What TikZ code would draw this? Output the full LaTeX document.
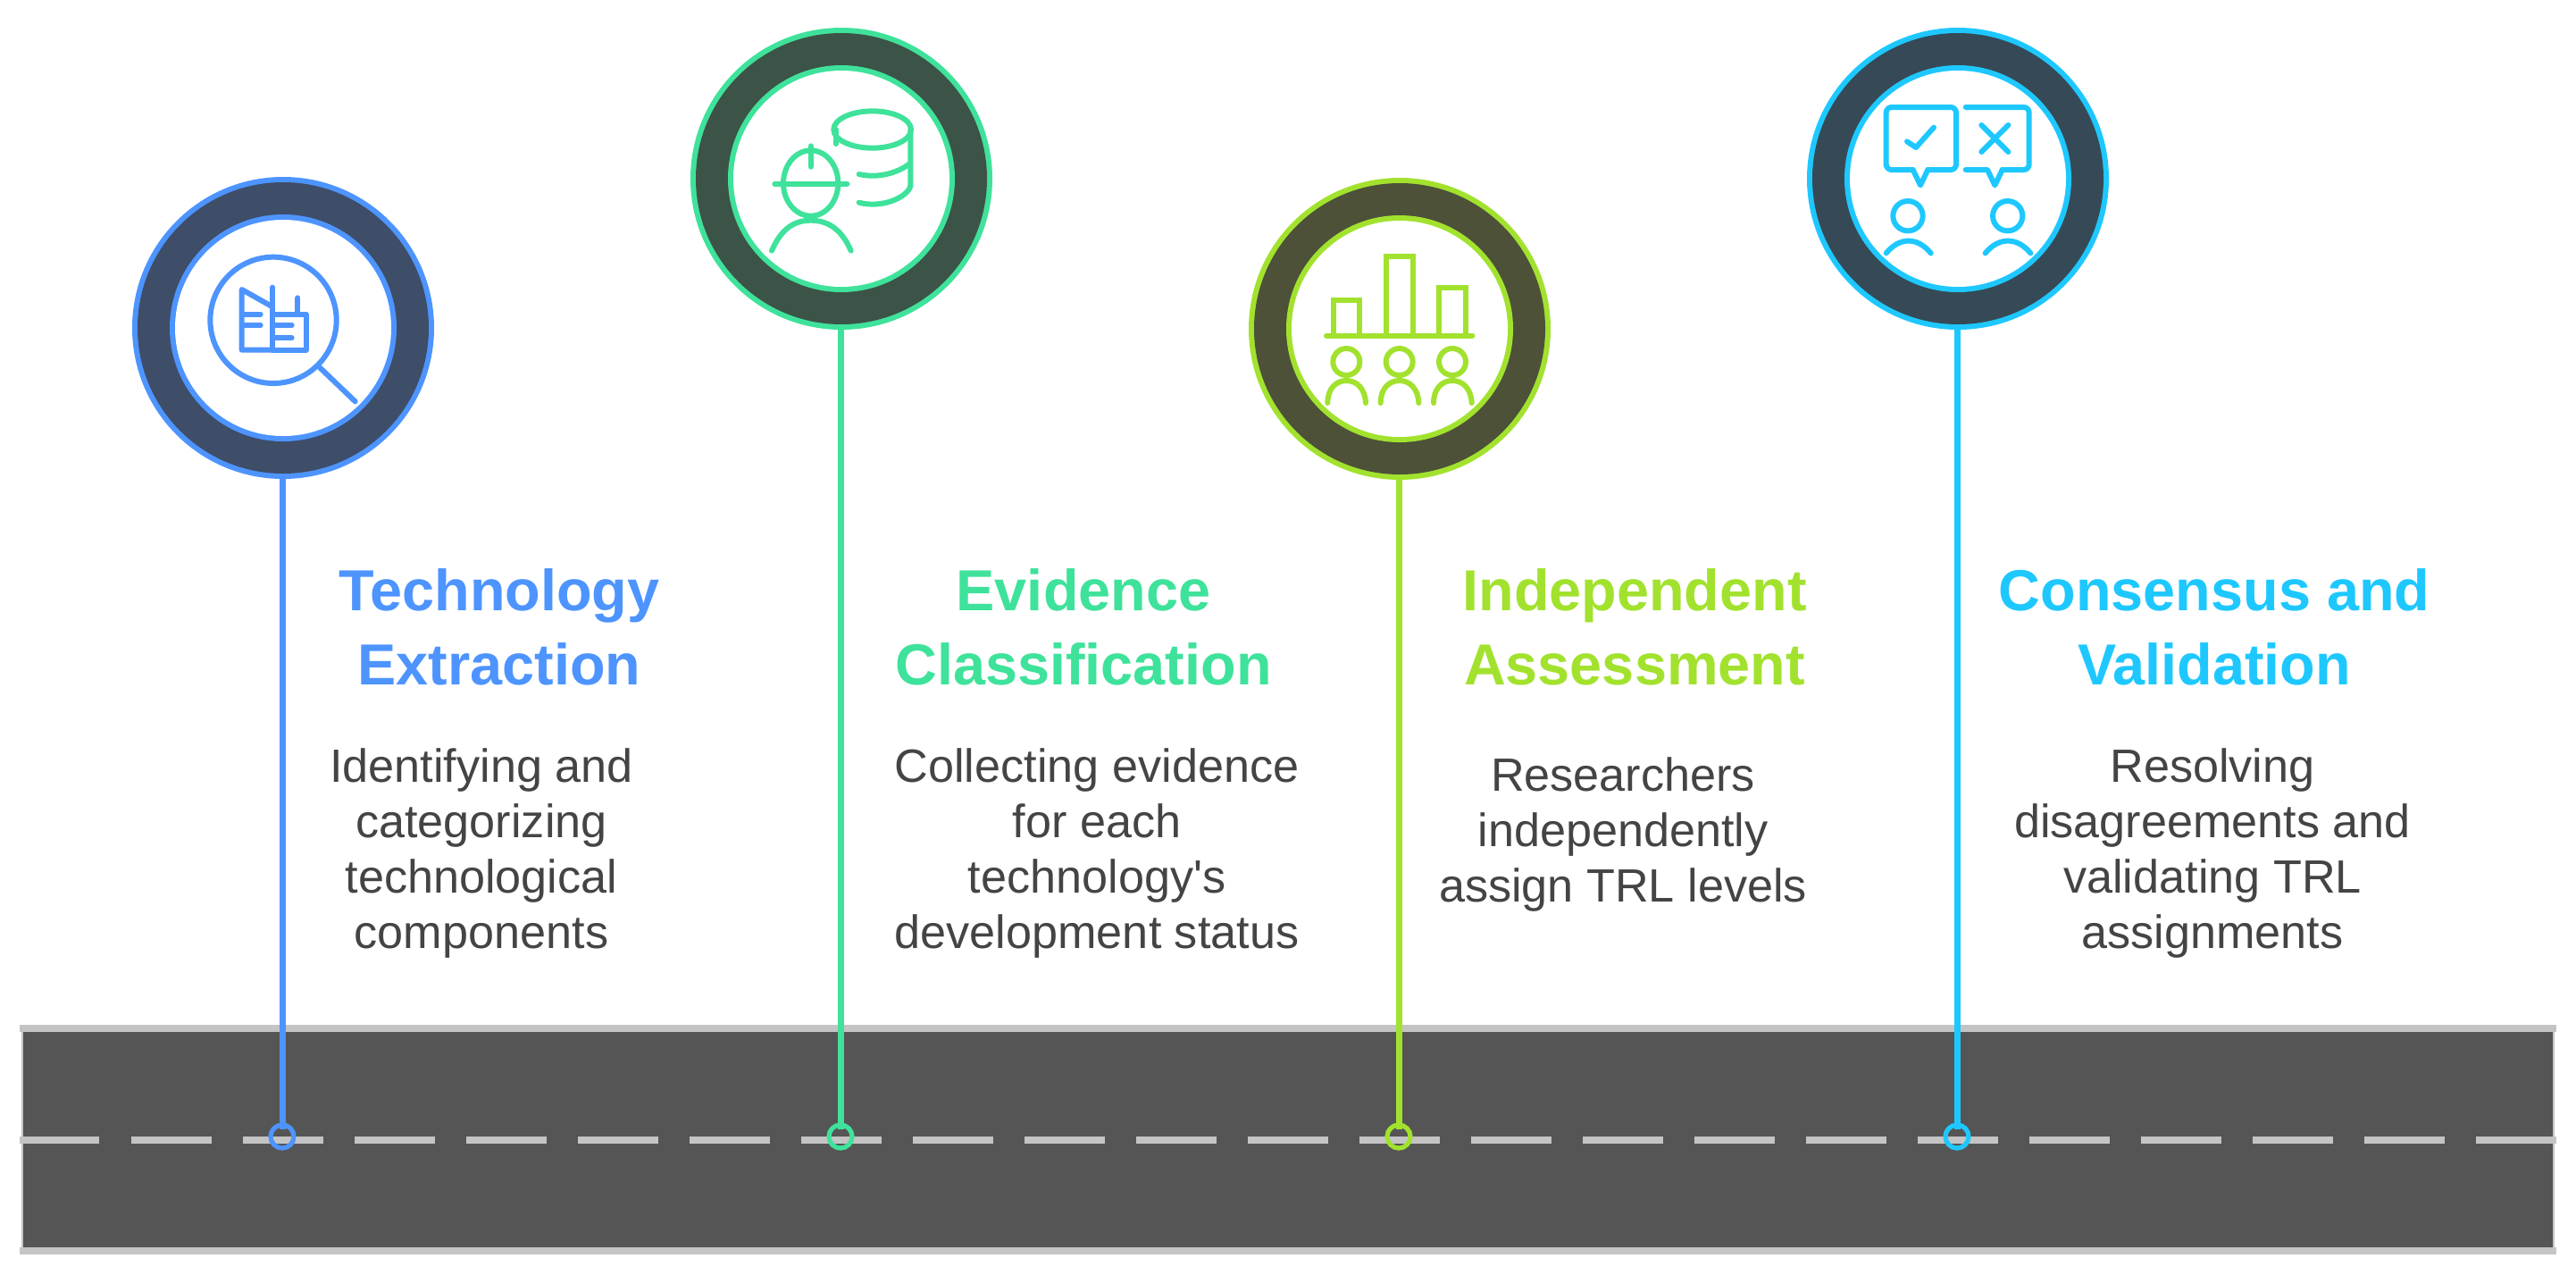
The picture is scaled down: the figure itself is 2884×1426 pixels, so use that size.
\documentclass[tikz,border=0pt]{standalone}
\usepackage{fontspec}
\setmainfont{Liberation Sans}
\newfontfamily\plainface{Liberation Sans}
\definecolor{blueA}{HTML}{4D94FF}\definecolor{blueD}{HTML}{3E4D68}
\definecolor{greenA}{HTML}{3FE29B}\definecolor{greenD}{HTML}{3C5347}
\definecolor{limeA}{HTML}{A2E22E}\definecolor{limeD}{HTML}{4C5138}
\definecolor{cyanA}{HTML}{1EC8FF}\definecolor{cyanD}{HTML}{354A56}
\definecolor{roadC}{HTML}{555555}\definecolor{edgeC}{HTML}{C4C4C4}\definecolor{bodyC}{HTML}{444444}
\tikzset{
  ringnode/.style={circle,fill=#1,draw=none,inner sep=0pt,minimum size=169pt},
  dotnode/.style={circle,draw=#1,line width=2.6pt,inner sep=0pt,minimum size=13pt},
  stem/.style={draw=#1,line width=3.5pt},
  zoomed/.style={x=0.166667pt,y=-0.166667pt},
  ic/.style={draw=#1,line width=3pt,line cap=round,line join=round},
  titletext/.style={font=\fontsize{32.4}{41.5}\selectfont\bfseries,align=center,inner sep=0pt},
  bodytext/.style={font=\fontsize{26.1}{31}\selectfont,text=bodyC,align=center,inner sep=0pt},
}
\newcommand{\ringat}[5]{%
  \node[ringnode=#4] (#1) at (#2,#3) {};
  \fill[#5] (#1.center) circle (163);
  \fill[#4] (#1.center) circle (127);
  \fill[white] (#1.center) circle (121);
}
\begin{document}
\begin{tikzpicture}[x=0.5pt,y=-0.5pt]
\useasboundingbox[fill=white] (0,0) rectangle (2884,1426);
% road
\fill[roadC] (25,1152) rectangle (2859,1398);
\draw[edgeC,line width=.6pt] (25,1152) -- (25,1398) (2859,1152) -- (2859,1398);
\draw[edgeC,line width=3.8pt] (22,1151) -- (2862,1151) (22,1400) -- (2862,1400);
\draw[edgeC,line width=3.8pt] (22,1276) -- (111,1276);
\foreach \k in {0,...,21}{
  \draw[edgeC,line width=3.8pt] ({147+125*\k},1276) -- ({237+125*\k},1276);
}
\draw[edgeC,line width=3.8pt] (2772,1276) -- (2861,1276);
% rings
\ringat{c1}{317}{367}{blueA}{blueD}
\ringat{c2}{942}{200}{greenA}{greenD}
\ringat{c3}{1567}{368}{limeA}{limeD}
\ringat{c4}{2192}{200}{cyanA}{cyanD}
% dots and stems
\node[dotnode=blueA] (d1) at (316,1272) {};
\node[dotnode=greenA] (d2) at (941,1272) {};
\node[dotnode=limeA] (d3) at (1566,1272) {};
\node[dotnode=cyanA] (d4) at (2191,1272) {};
\coordinate (n1) at (316,1264);\coordinate (n2) at (941,1264);
\coordinate (n3) at (1566,1264);\coordinate (n4) at (2191,1264);
\draw[stem=blueA] (c1.south -| n1) -- (n1);
\draw[stem=greenA] (c2.south -| n2) -- (n2);
\draw[stem=limeA] (c3.south -| n3) -- (n3);
\draw[stem=cyanA] (c4.south -| n4) -- (n4);
% icon 1
\begin{scope}[shift={(130,180)},zoomed]
\draw[ic=blueA] (528,535) circle (212);
\draw[ic=blueA] (685,695) -- (803,808);
\draw[ic=blueA] (525,635) -- (422,635) -- (422,432) -- (525,490);
\draw[ic=blueA] (525,425) -- (525,635) -- (638,635) -- (638,515) -- (525,515);
\draw[ic=blueA] (610,460) -- (610,515);
\draw[ic=blueA] (430,515) -- (485,515) (430,552) -- (485,552);
\draw[ic=blueA] (535,552) -- (590,552) (535,595) -- (590,595);
\end{scope}
% icon 2
\begin{scope}[shift={(760,20)},zoomed]
\draw[ic=greenA] (443,555) ellipse (92 and 110);
\draw[ic=greenA] (322,557) -- (565,557);
\draw[ic=greenA] (443,430) -- (443,500);
\draw[ic=greenA] (312,782) .. controls (345,705) and (390,680) .. (443,680) .. controls (496,680) and (545,705) .. (578,782);
\draw[ic=greenA] (650,375) ellipse (130 and 62);
\draw[ic=greenA] (527,375) -- (527,423);
\draw[ic=greenA] (778,375) -- (778,565) .. controls (765,605) and (680,640) .. (605,620);
\draw[ic=greenA] (605,525) .. controls (670,540) and (735,520) .. (775,490);
\end{scope}
% icon 3
\begin{scope}[shift={(1385,190)},zoomed]
\draw[ic=limeA,line cap=butt,line join=miter] (325,555) -- (325,437) -- (412,437) -- (412,555);
\draw[ic=limeA,line cap=butt,line join=miter] (500,555) -- (500,292) -- (590,292) -- (590,555);
\draw[ic=limeA,line cap=butt,line join=miter] (678,555) -- (678,395) -- (768,395) -- (768,555);
\draw[ic=limeA] (300,557) -- (790,557);
\foreach \c in {367,545,723}{
  \draw[ic=limeA] (\c,645) circle (45);
  \draw[ic=limeA] (\c-63,783) .. controls (\c-63,735) and (\c-35,708) .. (\c,708) .. controls (\c+35,708) and (\c+63,735) .. (\c+65,783);
}
\end{scope}
% icon 4
\begin{scope}[shift={(2010,20)},zoomed]
\draw[ic=cyanA,rounded corners=3pt] (395,510) -- (305,510) -- (305,300) -- (540,300) -- (540,510) -- (445,510);
\draw[ic=cyanA] (395,510) -- (420,562) -- (445,510);
\draw[ic=cyanA] (375,415) -- (405,435) -- (465,368);
\draw[ic=cyanA,rounded corners=3pt] (572,300) -- (785,300) -- (785,510) -- (695,510);
\draw[ic=cyanA] (572,510) -- (645,510) -- (670,562) -- (695,510);
\draw[ic=cyanA] (625,360) -- (715,450) (715,360) -- (625,450);
\draw[ic=cyanA] (378,665) circle (50);
\draw[ic=cyanA] (713,665) circle (50);
\draw[ic=cyanA] (305,790) .. controls (350,735) and (410,735) .. (455,790);
\draw[ic=cyanA] (638,790) .. controls (683,735) and (745,735) .. (790,790);
\end{scope}
% text
\node[titletext,text=blueA] (t1) at (559,702) {Technology\\Extraction};
\node[titletext,text=greenA] (t2) at (1213,702) {Evidence\\Classification};
\node[titletext,text=limeA] (t3) at (1830,702) {Independent\\Assessment};
\node[titletext,text=cyanA] (t4) at (2479,702) {Consensus and\\Validation};
\node[bodytext] (b1) at (539,955) {Identifying and\\categorizing\\technological\\components};
\node[bodytext] (b2) at (1228,955) {Collecting evidence\\for each\\technology{\plainface\symbol{39}}s\\development status};
\node[bodytext] (b3) at (1817,934) {Researchers\\independently\\assign TRL levels};
\node[bodytext] (b4) at (2477,955) {Resolving\\disagreements and\\validating TRL\\assignments};
\end{tikzpicture}
\end{document}
